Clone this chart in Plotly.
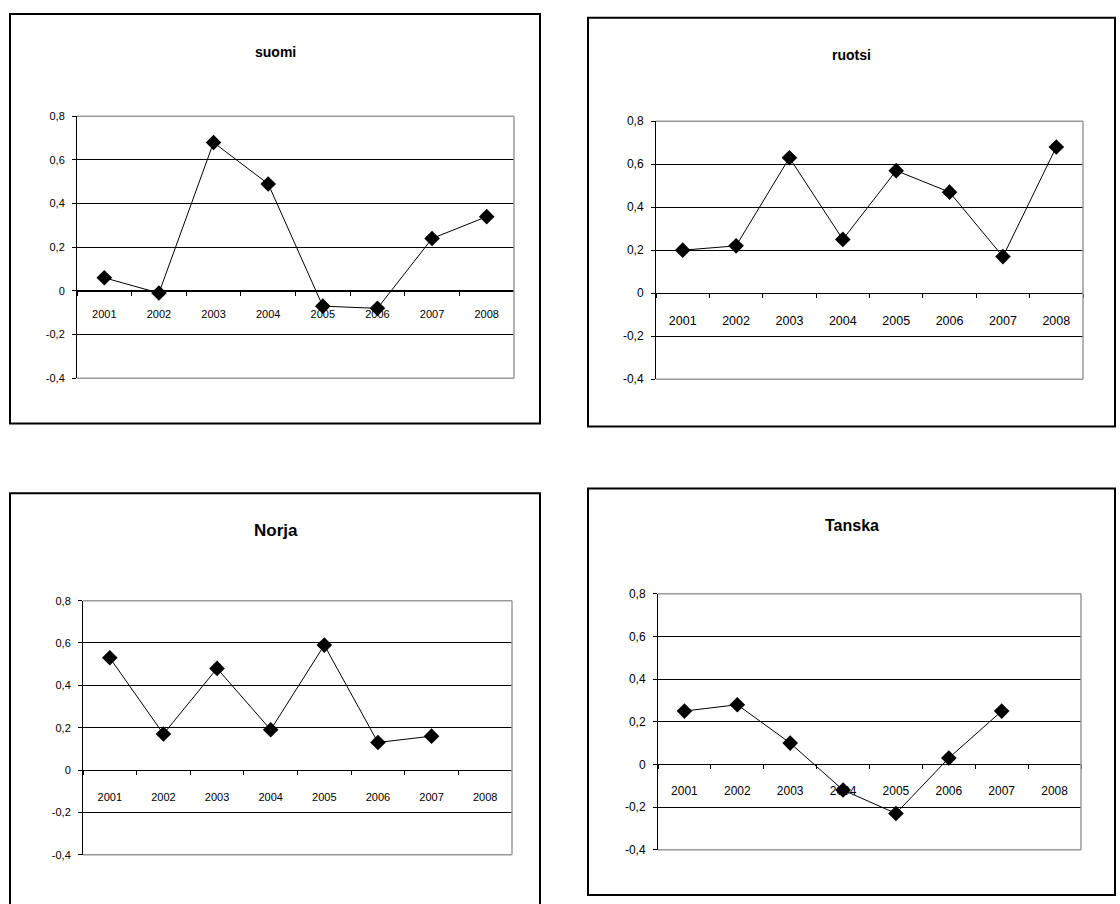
import plotly.graph_objects as go

# Years on the category axis
years = ["2001", "2002", "2003", "2004", "2005", "2006", "2007", "2008"]

# Yearly values per country
suomi = [0.06, -0.01, 0.68, 0.49, -0.07, -0.08, 0.24, 0.34]
ruotsi = [0.20, 0.22, 0.63, 0.25, 0.57, 0.47, 0.17, 0.68]
norja = [0.53, 0.17, 0.48, 0.19, 0.59, 0.13, 0.16, None]
tanska = [0.25, 0.28, 0.10, -0.12, -0.23, 0.03, 0.25, None]

titles = ["suomi", "ruotsi", "Norja", "Tanska"]

# Value axis ticks
y_ticks = [-0.4, -0.2, 0, 0.2, 0.4, 0.6, 0.8]
y_tick_text = ["-0,4", "-0,2", "0", "0,2", "0,4", "0,6", "0,8"]

W, H = 1120, 904


def px_x(v):
    return v / W


def px_y(v):
    return 1 - v / H


# Panel geometry in pixels: plot area (x0, x1, y_top, y_bottom), outer frame, title position
panels = [
    dict(data=suomi, area=(77, 514, 111, 377), frame=(10, 540, 7, 423),
         title_xy=(275, 46), title_size=14, tick_size=11, ytick_size=11, standoff=13),
    dict(data=ruotsi, area=(656, 1083, 116, 378), frame=(588, 1115, 11, 426),
         title_xy=(851, 49), title_size=14, tick_size=12.5, ytick_size=12, standoff=16),
    dict(data=norja, area=(83, 512, 603, 861), frame=(10, 540, 494, 915),
         title_xy=(276, 532), title_size=17, tick_size=11, ytick_size=11, standoff=17),
    dict(data=tanska, area=(658, 1081, 596, 856), frame=(588, 1115, 489, 902),
         title_xy=(852, 527), title_size=16, tick_size=12, ytick_size=12, standoff=15),
]

font_family = "Arial, Liberation Sans, sans-serif"

fig = go.Figure()
shapes = []
annotations = []
layout_axes = {}

for i, (p, title) in enumerate(zip(panels, titles), start=1):
    xa = "x" if i == 1 else f"x{i}"
    ya = "y" if i == 1 else f"y{i}"
    x0, x1, yt, yb = p["area"]
    dom_x = [px_x(x0), px_x(x1)]
    dom_y = [px_y(yb), px_y(yt)]
    # zero sits one third of the way up the [-0.4, 0.8] range
    zero_pos = dom_y[0] + (dom_y[1] - dom_y[0]) / 3

    fig.add_trace(go.Scatter(
        x=years, y=p["data"], xaxis=xa, yaxis=ya,
        mode="lines+markers",
        line=dict(color="black", width=1),
        marker=dict(symbol="diamond", size=12, color="black"),
        showlegend=False, connectgaps=False,
    ))

    layout_axes["xaxis" if i == 1 else f"xaxis{i}"] = dict(
        domain=dom_x, anchor="free", position=zero_pos,
        type="category", categoryorder="array", categoryarray=years,
        range=[-0.5, 7.5],
        showline=True, linecolor="black", linewidth=1,
        ticks="outside", ticklen=4, tickcolor="black", tickson="boundaries",
        ticklabelstandoff=p["standoff"],
        showgrid=False, zeroline=False,
        tickfont=dict(family=font_family, size=p["tick_size"], color="black"),
        fixedrange=True,
    )
    layout_axes["yaxis" if i == 1 else f"yaxis{i}"] = dict(
        domain=dom_y, anchor=xa, range=[-0.4, 0.8],
        tickmode="array", tickvals=y_ticks, ticktext=y_tick_text,
        showline=True, linecolor="black", linewidth=1,
        ticks="outside", ticklen=4, tickcolor="black",
        ticklabelstandoff=5,
        showgrid=True, gridcolor="black", gridwidth=1,
        zeroline=False,
        tickfont=dict(family=font_family, size=p["ytick_size"], color="black"),
        fixedrange=True,
    )

    # grey border on top, right and bottom of the plot area
    for (sx0, sy0, sx1, sy1) in [(0, 1, 1, 1), (1, 0, 1, 1), (0, 0, 1, 0)]:
        shapes.append(dict(
            type="line", xref=f"{xa} domain", yref=f"{ya} domain",
            x0=sx0, y0=sy0, x1=sx1, y1=sy1,
            line=dict(color="#9a9a9a", width=1.5), layer="above",
        ))

    # outer chart frame
    fx0, fx1, fyt, fyb = p["frame"]
    shapes.append(dict(
        type="rect", xref="paper", yref="paper",
        x0=px_x(fx0), x1=px_x(fx1), y0=px_y(fyb), y1=px_y(fyt),
        line=dict(color="black", width=2), layer="above",
    ))

    tx, ty = p["title_xy"]
    annotations.append(dict(
        text=f"<b>{title}</b>", xref="paper", yref="paper",
        x=px_x(tx), y=px_y(ty), xanchor="center", yanchor="middle",
        showarrow=False,
        font=dict(family=font_family, size=p["title_size"], color="black"),
    ))

fig.update_layout(
    width=W, height=H,
    margin=dict(l=0, r=0, t=0, b=0),
    paper_bgcolor="white", plot_bgcolor="white",
    shapes=shapes, annotations=annotations,
    font=dict(family=font_family, color="black"),
    **layout_axes,
)

fig.write_html("out.html", config={"displayModeBar": False})
